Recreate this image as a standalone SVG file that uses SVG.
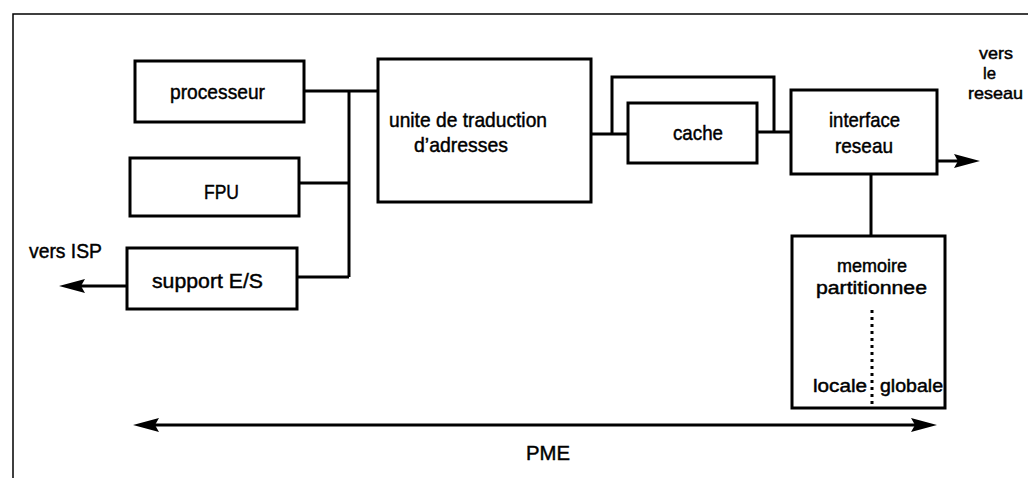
<svg xmlns="http://www.w3.org/2000/svg" width="1028" height="478" viewBox="0 0 1028 478">
  <style>
    .box { fill: #fff; stroke: #000; stroke-width: 3; }
    .ln { fill: none; stroke: #000; stroke-width: 3; }
    .frame { fill: none; stroke: #000; stroke-width: 1.5; }
    text { font-family: "Liberation Sans", Arial, sans-serif; font-size: 21px; fill: #000; stroke: #000; stroke-width: 0.45; }
    .sm { font-size: 18px; }
    .xs { font-size: 17px; }
  </style>
  <defs>
    <marker id="ah" viewBox="0 0 26 14" refX="16" refY="7" markerWidth="26" markerHeight="14" markerUnits="userSpaceOnUse" orient="auto-start-reverse">
      <path d="M0,0 L26,7 L0,14 L4,7 Z" fill="#000"/>
    </marker>
  </defs>
  <rect width="1028" height="478" fill="#fff"/>
  <path class="frame" d="M13,478 V14 H1028"/>

  <g id="connectors">
    <path class="ln" d="M304,91 H378"/>
    <path class="ln" d="M349,91 V277"/>
    <path class="ln" d="M299,183 H349"/>
    <path class="ln" d="M297,277 H349"/>
    <path class="ln" d="M591,134 H628"/>
    <path class="ln" d="M612,134 V77 H774 V132"/>
    <path class="ln" d="M757,132 H791"/>
    <path class="ln" d="M871,174 V236"/>
    <path class="ln" d="M127,286 H69" marker-end="url(#ah)"/>
    <path class="ln" d="M937,161 H970" marker-end="url(#ah)"/>
    <path class="ln" d="M143,425 H927" marker-start="url(#ah)" marker-end="url(#ah)"/>
  </g>

  <g id="processeur">
    <rect class="box" x="135" y="61" width="169" height="61"/>
    <text x="170" y="99" textLength="95" lengthAdjust="spacingAndGlyphs">processeur</text>
  </g>
  <g id="fpu">
    <rect class="box" x="130" y="158" width="169" height="58"/>
    <text x="204" y="199" textLength="35" lengthAdjust="spacingAndGlyphs">FPU</text>
  </g>
  <g id="support">
    <rect class="box" x="127" y="248" width="170" height="61"/>
    <text x="152" y="288" textLength="111" lengthAdjust="spacingAndGlyphs">support E/S</text>
  </g>
  <g id="vers-isp">
    <text x="29" y="258" textLength="73" lengthAdjust="spacingAndGlyphs">vers ISP</text>
  </g>
  <g id="unite">
    <rect class="box" x="378" y="59" width="213" height="143"/>
    <text x="389" y="127" textLength="158" lengthAdjust="spacingAndGlyphs">unite de traduction</text>
    <text x="414" y="152" textLength="94" lengthAdjust="spacingAndGlyphs">d’adresses</text>
  </g>
  <g id="cache">
    <rect class="box" x="628" y="103" width="129" height="60"/>
    <text x="673" y="140" textLength="50" lengthAdjust="spacingAndGlyphs">cache</text>
  </g>
  <g id="interface">
    <rect class="box" x="791" y="90" width="146" height="84"/>
    <text x="829" y="127" textLength="71" lengthAdjust="spacingAndGlyphs">interface</text>
    <text x="835" y="153" textLength="58" lengthAdjust="spacingAndGlyphs">reseau</text>
  </g>
  <g id="vers-reseau">
    <text class="xs" x="979" y="59" textLength="34" lengthAdjust="spacingAndGlyphs">vers</text>
    <text class="xs" x="983" y="79" textLength="13" lengthAdjust="spacingAndGlyphs">le</text>
    <text class="xs" x="968" y="99" textLength="55" lengthAdjust="spacingAndGlyphs">reseau</text>
  </g>
  <g id="memoire">
    <rect class="box" x="792" y="236" width="153" height="172"/>
    <text class="sm" x="837" y="272" textLength="70" lengthAdjust="spacingAndGlyphs">memoire</text>
    <text class="sm" x="816" y="294" textLength="111" lengthAdjust="spacingAndGlyphs">partitionnee</text>
    <path class="ln" d="M872,310 V404" stroke-dasharray="3 4"/>
    <text class="sm" x="813" y="392" textLength="54" lengthAdjust="spacingAndGlyphs">locale</text>
    <text class="sm" x="880" y="392" textLength="63" lengthAdjust="spacingAndGlyphs">globale</text>
  </g>
  <g id="pme">
    <text x="526" y="460" textLength="44" lengthAdjust="spacingAndGlyphs">PME</text>
  </g>
</svg>
